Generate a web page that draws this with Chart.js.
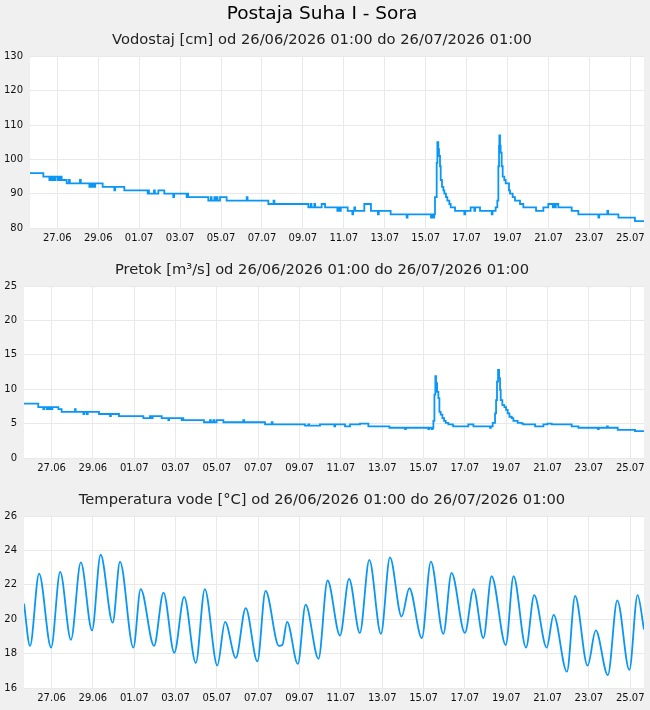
<!DOCTYPE html>
<html lang="sl">
<head>
<meta charset="UTF-8">
<title>Postaja Suha I - Sora</title>
<script src="https://cdn.jsdelivr.net/npm/chart.js"></script>
<style>
  body { margin: 0; background: #f0f0f0; width: 650px; height: 710px; overflow: hidden; }
  canvas { position: absolute; left: 0; }
</style>
</head>
<body>
<canvas id="vodostaj" width="650" height="250" style="top:0px"></canvas>
<canvas id="pretok" width="650" height="230" style="top:250px"></canvas>
<canvas id="temperatura" width="650" height="230" style="top:480px"></canvas>
<script>
// ure od 26/06/2026 01:00 -> vrednost
const xTickHours = [32, 80, 128, 176, 224, 272, 320, 368, 416, 464, 512, 560, 608, 656, 704];
const xTickLabels = ['27.06', '29.06', '01.07', '03.07', '05.07', '07.07', '09.07', '11.07',
                     '13.07', '15.07', '17.07', '19.07', '21.07', '23.07', '25.07'];

// vodostaj [cm], stopnicasto (ura spremembe, vrednost)
const vodostaj = [
  [0,96],[15.6,95],[22.7,94],[23.7,95],[25.8,94],[26.8,95],[28.5,94],[29.5,95],[32.1,94],[33.1,95],
  [35.2,94],[36.2,95],[37.1,94],[43,93],[45.7,94],[46.7,93],[58.6,94],[59.6,93],[69.6,92],[71,93],
  [72.3,92],[73.5,93],[75.4,92],[76.5,93],[85.2,92],[98.9,91],[99.9,92],[110.6,91],[138,90],[139,91],
  [139.5,90],[145.4,91],[146.4,90],[150.5,91],[157.5,90],[168,89],[169,90],[183.7,89],[184.5,90],[185.5,89],
  [209.1,88],[212,89],[213,88],[216.2,89],[217.2,88],[218.9,89],[219.9,88],[222.8,89],[230.6,88],[254.1,89],
  [255.1,88],[279.5,87],[285.6,88],[286.6,87],[326.4,86],[329.1,87],[330.1,86],[333.4,87],[334.4,86],[342,87],
  [346,86],[360.4,85],[361.4,86],[363.5,85],[364.5,86],[372.5,85],[378,84],[379,85],[380.3,86],[381.3,85],
  [392,87],[399.8,85],[408,84],[409,85],[422.9,84],[441.7,83],[442.7,84],[470.2,83],[471.2,84],[473,83],
  [474,84],[474.9,89],[476.9,99],[477.7,105],[478.8,103],[479.6,101],[480.8,98],[481.6,94],[483.1,92],[484.7,91],
  [485.9,90],[487.8,89],[489.4,88],[491.7,87],[493.3,86],[498.4,85],[509.3,84],[510.3,85],[516.7,86],[521,85],
  [522,86],[527.7,85],[541.4,84],[542.4,85],[546,86],[548,88],[549.2,98],[550,104],[550.4,107],[551.2,104],
  [551.9,102],[553.1,98],[554.3,95],[556.2,94],[557.8,93],[561.7,91],[562.9,90],[566,89],[568.7,88],[574.6,87],
  [578.5,86],[593.4,85],[602,86],[607.8,87],[613,86],[614,87],[615.6,86],[616.6,87],[619.5,86],[635.2,85],
  [643,84],[666.5,83],[667.5,84],[677,85],[678,84],[690,83],[709.4,82],[720,82]
];

// pretok [m3/s], stopnicasto
const pretok = [
  [0,7.9],[16.6,7.4],[22.4,7.1],[23.4,7.4],[26.3,7.1],[27.3,7.4],[29.4,7.1],[30.4,7.4],[32.1,7.1],[33,7.4],
  [39.9,7.1],[43.7,6.7],[59.2,7.1],[60,6.7],[69,6.4],[70,6.7],[72.8,6.4],[74,6.7],[87.1,6.4],[99.9,6.1],
  [100.9,6.4],[110.3,6.1],[138.6,5.8],[146.3,6.1],[147.3,5.8],[149.4,6.1],[159.9,5.8],[167.6,5.5],[168.5,5.8],[183.1,5.5],
  [184,5.8],[185,5.5],[209,5.2],[216,5.5],[217,5.2],[219.9,5.5],[221,5.2],[223.7,5.5],[231.5,5.2],[254.7,5.5],
  [255.7,5.2],[279.9,4.9],[287.6,5.2],[288.6,4.9],[326.3,4.7],[330.2,4.9],[331.2,4.7],[343.7,4.9],[360.4,4.6],[361.4,4.9],
  [372.8,4.6],[378.6,4.9],[390.2,5.0],[399.9,4.6],[424.3,4.4],[442.5,4.2],[443.5,4.4],[469.6,4.2],[470.6,4.4],[473.5,4.2],
  [474.5,4.4],[475.4,5.4],[476.6,9.2],[477.7,11.9],[478.5,10.9],[479.7,9.6],[481.2,8.7],[482.4,6.7],[483.9,6.3],[485.9,5.8],
  [487.8,5.4],[489.7,5.1],[492.8,4.9],[497.9,4.75],[498.6,4.6],[516,4.9],[521.9,4.6],[541.2,4.4],[542.2,4.6],[544.3,5.1],
  [547,6.5],[548.2,8.4],[549.3,11.1],[550.5,12.8],[551.7,11.6],[552.8,9.9],[553.6,8.4],[555.5,7.7],[557.9,7.4],[559.8,7.0],
  [561.7,6.5],[563.7,6.0],[566.4,5.8],[568.3,5.4],[573.3,5.1],[578,5.0],[579.9,4.9],[593.5,4.6],[603.2,4.9],[607.8,5.0],
  [612.8,4.9],[636,4.6],[643.8,4.4],[666.5,4.2],[667.5,4.4],[677,4.6],[678,4.4],[689.5,4.1],[709.6,3.9],[720,3.9]
];

// temperatura vode [°C], minimumi in maksimumi dnevnega hoda
const temperatura = [
  [0,20.9],[7,18.45],[17.5,22.65],[31.5,18.35],[42,22.75],[54.5,18.8],[66,23.3],[79,19.35],[89,23.75],[103,19.8],
  [111.5,23.35],[127,18.35],[135.5,21.75],[151,18.45],[162,21.55],[174.5,18.05],[186,21.3],[199.5,17.45],[210,21.75],[224.5,17.3],
  [233.5,19.85],[246,17.75],[257.5,20.65],[271,17.55],[280.5,21.65],[296,18.45],[300,18.5],[305.5,19.85],[318,17.4],[327,20.85],
  [342,17.7],[352.5,22.25],[367,19.05],[377.5,22.35],[390,19.2],[401,23.45],[414.5,19.15],[425,23.6],[438.5,20.15],[447.5,21.8],
  [462,18.9],[472.5,23.35],[487,19.15],[496.5,22.7],[512,19.2],[522,21.75],[533.5,18.9],[543,22.5],[559.5,18.5],[568.5,22.5],
  [583,18.35],[592.5,21.4],[607,18.35],[615,20.25],[630.5,16.95],[640,21.35],[654.5,17.3],[664,19.35],[678,16.75],[689,21.1],
  [703,17.05],[712.5,21.4],[720,19.4]
];

Chart.defaults.font.family = '"DejaVu Sans", Verdana, sans-serif';
Chart.defaults.color = '#111';

const barvaCrte = '#0a96f5';
const barvaMreze = '#e9e9e9';

const belaPodlaga = {
  id: 'belaPodlaga',
  beforeDraw(chart) {
    const { ctx, chartArea: a } = chart;
    ctx.save();
    ctx.fillStyle = '#ffffff';
    ctx.fillRect(a.left, a.top, a.right - a.left, a.bottom - a.top);
    ctx.restore();
  }
};

function narisi(id, podatki, nastavitve) {
  return new Chart(document.getElementById(id), {
    type: 'line',
    data: {
      datasets: [{
        data: podatki.map(p => ({ x: p[0], y: p[1] })),
        borderColor: barvaCrte,
        borderWidth: 1.8,
        pointRadius: 0,
        fill: false,
        stepped: nastavitve.stepped,
        cubicInterpolationMode: nastavitve.stepped ? 'default' : 'monotone'
      }]
    },
    options: {
      responsive: false,
      animation: false,
      devicePixelRatio: 1,
      layout: { padding: { left: 0, right: 6, top: 0, bottom: 0 } },
      plugins: {
        legend: { display: false },
        tooltip: { enabled: false },
        title: nastavitve.title,
        subtitle: nastavitve.subtitle || { display: false }
      },
      scales: {
        x: {
          type: 'linear', min: 0, max: 720,
          afterBuildTicks: s => { s.ticks = xTickHours.map(v => ({ value: v })); },
          afterFit: s => { s.height = 22; },
          grid: { color: barvaMreze, drawTicks: false },
          border: { display: false },
          ticks: {
            padding: 4, maxRotation: 0, autoSkip: false, font: { size: 10 },
            callback: (v, i) => xTickLabels[i]
          }
        },
        y: {
          min: nastavitve.min, max: nastavitve.max,
          afterFit: s => { s.width = nastavitve.yWidth; },
          grid: { color: barvaMreze, drawTicks: false },
          border: { display: false },
          ticks: { stepSize: nastavitve.step, padding: 7, font: { size: 10 } }
        }
      }
    },
    plugins: [belaPodlaga]
  });
}

narisi('vodostaj', vodostaj, {
  stepped: true, min: 80, max: 130, step: 10, yWidth: 30,
  title: { display: true, text: 'Postaja Suha I - Sora', color: '#000',
           font: { size: 18.5, weight: 'normal' }, padding: { top: 3, bottom: 0 } },
  subtitle: { display: true, text: 'Vodostaj [cm] od 26/06/2026 01:00 do 26/07/2026 01:00', color: '#222',
              font: { size: 14.7, weight: 'normal' }, padding: { top: 6.5, bottom: 7.2 } }
});

narisi('pretok', pretok, {
  stepped: true, min: 0, max: 25, step: 5, yWidth: 24,
  title: { display: true, text: 'Pretok [m³/s] od 26/06/2026 01:00 do 26/07/2026 01:00', color: '#222',
           font: { size: 14.7, weight: 'normal' }, padding: { top: 11.2, bottom: 7.2 } }
});

narisi('temperatura', temperatura, {
  stepped: false, min: 16, max: 26, step: 2, yWidth: 24,
  title: { display: true, text: 'Temperatura vode [°C] od 26/06/2026 01:00 do 26/07/2026 01:00', color: '#222',
           font: { size: 14.7, weight: 'normal' }, padding: { top: 11.2, bottom: 7.2 } }
});
</script>
</body>
</html>
